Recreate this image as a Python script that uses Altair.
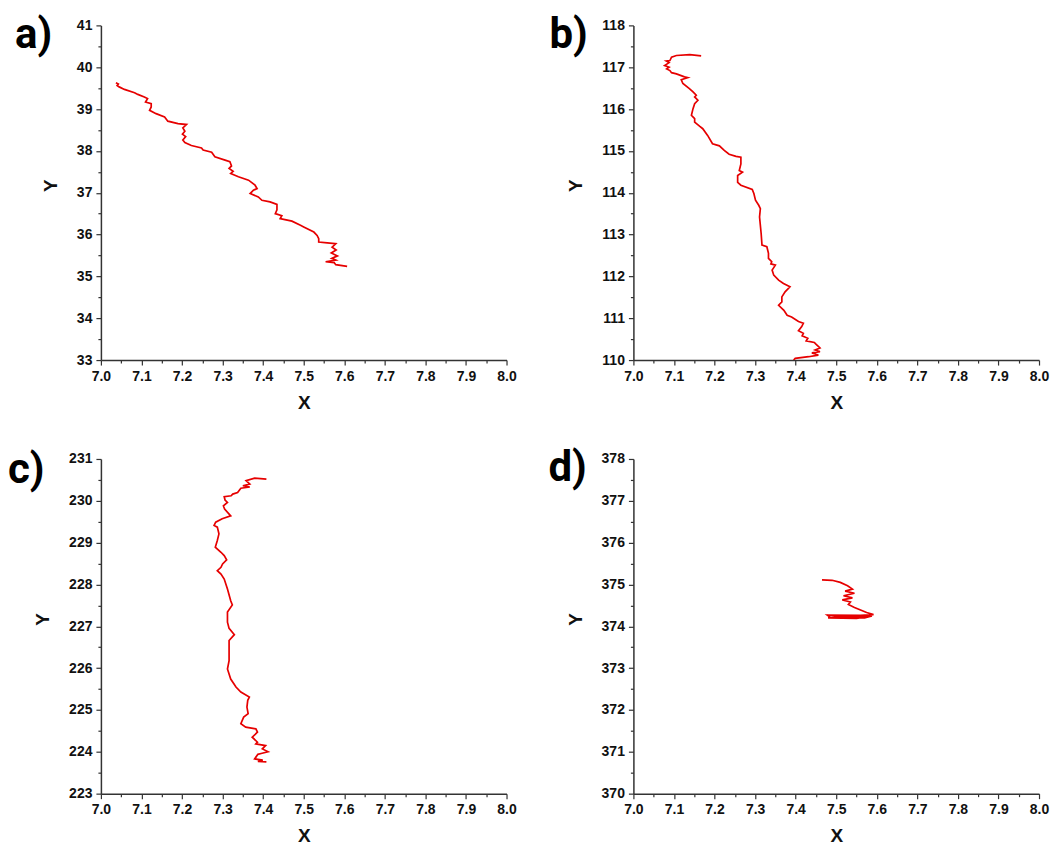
import altair as alt
import pandas as pd

# ---------------- data ----------------
a_x = [7.037, 7.043, 7.040, 7.045, 7.058, 7.083, 7.091, 7.107, 7.115, 7.110,
       7.124, 7.124, 7.120, 7.136, 7.157, 7.165, 7.190, 7.211, 7.202, 7.207,
       7.201, 7.209, 7.202, 7.207, 7.223, 7.248, 7.252, 7.273, 7.281, 7.306,
       7.318, 7.322, 7.316, 7.326, 7.320, 7.339, 7.364, 7.380, 7.385, 7.376,
       7.368, 7.388, 7.397, 7.417, 7.434, 7.434, 7.430, 7.446, 7.442, 7.471,
       7.492, 7.500, 7.525, 7.533, 7.537, 7.537, 7.558, 7.579, 7.570, 7.580,
       7.568, 7.583, 7.569, 7.579, 7.554, 7.575, 7.579, 7.607]
a_y = [39.63, 39.60, 39.56, 39.53, 39.47, 39.39, 39.35, 39.29, 39.25, 39.17,
       39.13, 39.05, 38.97, 38.89, 38.81, 38.71, 38.65, 38.63, 38.55, 38.47,
       38.40, 38.34, 38.26, 38.20, 38.13, 38.07, 38.02, 37.97, 37.86, 37.78,
       37.74, 37.64, 37.58, 37.51, 37.46, 37.38, 37.30, 37.18, 37.10, 37.06,
       36.98, 36.90, 36.82, 36.78, 36.72, 36.59, 36.50, 36.45, 36.38, 36.32,
       36.22, 36.18, 36.06, 35.98, 35.90, 35.82, 35.80, 35.78, 35.70, 35.63,
       35.56, 35.49, 35.43, 35.39, 35.35, 35.33, 35.28, 35.24]

b_x = [7.167, 7.139, 7.106, 7.094, 7.090, 7.081, 7.088, 7.077, 7.088, 7.082,
       7.090, 7.094, 7.106, 7.126, 7.134, 7.118, 7.122, 7.138, 7.147, 7.155,
       7.151, 7.159, 7.151, 7.147, 7.143, 7.151, 7.151, 7.163, 7.171, 7.183,
       7.195, 7.212, 7.224, 7.236, 7.253, 7.265, 7.265, 7.261, 7.269, 7.257,
       7.257, 7.265, 7.293, 7.297, 7.301, 7.309, 7.313, 7.311, 7.315, 7.317,
       7.329, 7.333, 7.333, 7.341, 7.339, 7.350, 7.342, 7.346, 7.358, 7.370,
       7.386, 7.374, 7.366, 7.366, 7.358, 7.371, 7.379, 7.390, 7.407, 7.419,
       7.415, 7.407, 7.419, 7.416, 7.430, 7.426, 7.446, 7.450, 7.460, 7.448,
       7.460, 7.440, 7.456, 7.432, 7.399, 7.395]
b_y = [117.27, 117.30, 117.28, 117.24, 117.16, 117.15, 117.11, 117.04, 117.00, 116.96,
       116.92, 116.87, 116.84, 116.77, 116.75, 116.70, 116.61, 116.49, 116.41, 116.33,
       116.29, 116.21, 116.13, 116.01, 115.85, 115.77, 115.69, 115.59, 115.53, 115.37,
       115.17, 115.12, 115.01, 114.92, 114.87, 114.85, 114.69, 114.53, 114.49, 114.41,
       114.25, 114.18, 114.08, 113.98, 113.82, 113.70, 113.62, 113.42, 113.02, 112.75,
       112.71, 112.55, 112.43, 112.35, 112.30, 112.27, 112.15, 112.03, 111.91, 111.83,
       111.75, 111.63, 111.51, 111.39, 111.31, 111.19, 111.07, 111.03, 110.92, 110.88,
       110.80, 110.70, 110.64, 110.58, 110.52, 110.46, 110.42, 110.38, 110.29, 110.24,
       110.20, 110.17, 110.12, 110.08, 110.04, 110.00]

c_x = [7.408, 7.379, 7.358, 7.367, 7.350, 7.367, 7.345, 7.337, 7.325, 7.321,
       7.304, 7.306, 7.312, 7.302, 7.305, 7.320, 7.299, 7.283, 7.279, 7.287,
       7.291, 7.287, 7.282, 7.296, 7.304, 7.310, 7.300, 7.296, 7.287, 7.296,
       7.304, 7.312, 7.320, 7.324, 7.312, 7.312, 7.316, 7.329, 7.316, 7.316,
       7.312, 7.320, 7.333, 7.345, 7.366, 7.362, 7.360, 7.363, 7.352, 7.345,
       7.357, 7.382, 7.386, 7.373, 7.386, 7.382, 7.406, 7.398, 7.412, 7.395,
       7.387, 7.379, 7.399, 7.387, 7.408]
c_y = [230.52, 230.54, 230.48, 230.40, 230.36, 230.33, 230.30, 230.20, 230.16, 230.12,
       230.10, 230.02, 229.96, 229.88, 229.80, 229.64, 229.57, 229.49, 229.41, 229.37,
       229.21, 229.05, 228.89, 228.77, 228.69, 228.59, 228.49, 228.41, 228.33, 228.25,
       228.13, 227.89, 227.61, 227.51, 227.34, 227.10, 226.95, 226.80, 226.66, 226.18,
       225.98, 225.74, 225.55, 225.43, 225.31, 225.23, 225.07, 224.91, 224.83, 224.67,
       224.59, 224.55, 224.47, 224.35, 224.23, 224.19, 224.15, 224.07, 224.00, 223.96,
       223.94, 223.83, 223.80, 223.77, 223.76]

d_x = [7.465, 7.490, 7.510, 7.528, 7.540, 7.522, 7.545, 7.518, 7.540, 7.515,
       7.535, 7.530, 7.545, 7.560, 7.575, 7.592, 7.560, 7.478, 7.485, 7.570,
       7.588, 7.500, 7.480, 7.550, 7.585, 7.530]
d_y = [375.11, 375.10, 375.05, 374.97, 374.89, 374.84, 374.79, 374.73, 374.68, 374.63,
       374.58, 374.52, 374.45, 374.39, 374.33, 374.28, 374.26, 374.27, 374.22, 374.20,
       374.25, 374.23, 374.20, 374.19, 374.24, 374.21]

panel_labels = ["a)", "b)", "c)", "d)"]
y_ranges = [(33, 41), (110, 118), (223, 231), (370, 378)]
x_range = (7.0, 8.0)

# tick positions (major + minor)
x_ticks = [round(7.0 + 0.05 * i, 2) for i in range(21)]

LINE_COLOR = "#e60000"
W, H = 406, 335

x_minor = "abs(datum.value*10 - round(datum.value*10)) > 0.001"
y_minor = "abs(datum.value - round(datum.value)) > 0.001"


def panel(xs, ys, yr, label, lx, ly):
    df = pd.DataFrame({"x": xs, "y": ys, "i": list(range(len(xs)))})
    y_ticks = [round(yr[0] + 0.5 * k, 1) for k in range(int((yr[1] - yr[0]) * 2) + 1)]
    xaxis = alt.Axis(
        values=x_ticks,
        title="X",
        labelExpr="abs(datum.value*10 - round(datum.value*10)) < 0.001 ? format(datum.value, '.1f') : ''",
        tickSize={"condition": {"test": x_minor, "value": 3}, "value": 5},
        labelPadding=4,
        titlePadding=10,
        labelOverlap=False,
        labelFlush=False,
    )
    yaxis = alt.Axis(
        values=y_ticks,
        title="Y",
        labelExpr="abs(datum.value - round(datum.value)) < 0.001 ? format(datum.value, 'd') : ''",
        tickSize={"condition": {"test": y_minor, "value": 3}, "value": 5},
        labelPadding=4,
        titlePadding=16,
        labelOverlap=False,
        labelFlush=False,
        titleY=160,
    )
    line = alt.Chart(df).mark_line(color=LINE_COLOR, strokeWidth=1.7, clip=True).encode(
        x=alt.X("x:Q", scale=alt.Scale(domain=list(x_range), nice=False, zero=False), axis=xaxis),
        y=alt.Y("y:Q", scale=alt.Scale(domain=list(yr), nice=False, zero=False), axis=yaxis),
        order="i:Q",
    )
    txt = alt.Chart(pd.DataFrame({"t": [label]})).mark_text(
        font="Roboto", fontWeight="bold", fontSize=42, align="left", baseline="top", color="black"
    ).encode(text="t:N", x=alt.value(lx), y=alt.value(ly))
    return alt.layer(line, txt).properties(width=W, height=H)


pa = panel(a_x, a_y, y_ranges[0], panel_labels[0], -86, -10)
pb = panel(b_x, b_y, y_ranges[1], panel_labels[1], -84, -10)
pc = panel(c_x, c_y, y_ranges[2], panel_labels[2], -93, -9)
pd_ = panel(d_x, d_y, y_ranges[3], panel_labels[3], -85, -11)

chart = alt.concat(
    pa, pb, pc, pd_, columns=2, spacing={"row": 99, "column": 127}, bounds="flush"
).properties(
    padding={"left": 0, "top": 6, "right": 5, "bottom": 0}
).configure_view(stroke=None).configure_axis(
    grid=False,
    domainColor="#333333",
    domainWidth=1.5,
    tickColor="#333333",
    tickWidth=1.2,
    labelFont="Liberation Sans",
    labelFontWeight="bold",
    labelFontSize=14,
    labelColor="#111111",
    titleFont="Liberation Sans",
    titleFontWeight="bold",
    titleFontSize=19,
    titleColor="#111111",
)

chart.save("out.html", embed_options={"renderer": "svg", "actions": False})
